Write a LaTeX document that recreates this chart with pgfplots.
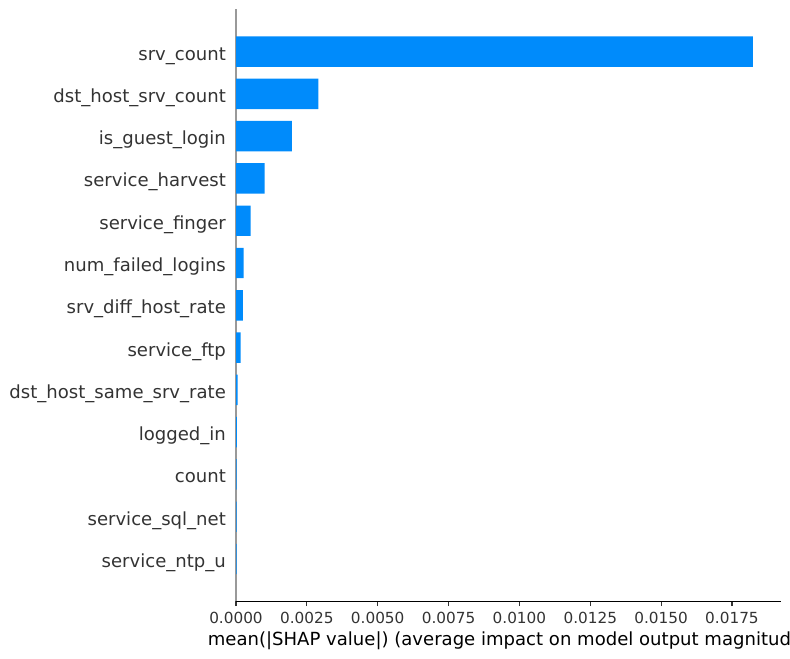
\documentclass[border=0pt]{standalone}
\usepackage{pgfplots}
\pgfplotsset{compat=1.18}
\usepackage{fontspec}
\setmainfont{DejaVu Sans}
\definecolor{shapblue}{HTML}{008BFB}
\definecolor{axgray}{HTML}{333333}
\definecolor{spinegray}{HTML}{999999}
\newlength\px
\setlength\px{0.7227pt}

% mean(|SHAP value|), index 0 = bottom bar
\pgfplotstableread{
y  v
0  0.00002
1  0.00002
2  0.00002
3  0.00003
4  0.00006
5  0.000165
6  0.00024
7  0.00027
8  0.00052
9  0.00101
10 0.00197
11 0.00291
12 0.01824
}\shapdata

\begin{document}
\begin{tikzpicture}
\useasboundingbox (0,0) rectangle (790\px,659\px);
\clip (0,0) rectangle (790\px,659\px);
\begin{axis}[
  at={(236\px,57.7\px)}, anchor=south west,
  scale only axis, width=545\px, height=592\px,
  xmin=0, xmax=0.01923, ymin=-1, ymax=13,
  axis x line*=bottom, axis y line*=left,
  axis line style={-},
  x axis line style={black, line width=0.8bp},
  y axis line style={spinegray, line width=0.8bp},
  xtick={0,0.0025,0.005,0.0075,0.01,0.0125,0.015,0.0175},
  xticklabels={0.0000,0.0025,0.0050,0.0075,0.0100,0.0125,0.0150,0.0175},
  scaled x ticks=false,
  ytick={0,...,12},
  yticklabels={service\_ntp\_u, service\_sql\_net, count, logged\_in,
    dst\_host\_same\_srv\_rate, service\_ftp, srv\_diff\_host\_rate,
    num\_failed\_logins, service\_finger, service\_harvest,
    is\_guest\_login, dst\_host\_srv\_count, srv\_count},
  tick align=outside,
  major tick length=3.5bp,
  xtick style={axgray, line width=0.8bp},
  ytick style={draw=none},
  xticklabel style={font=\fontsize{11bp}{13bp}\selectfont, color=axgray,
    anchor=north, inner sep=0pt},
  xticklabel shift=6\px,
  yticklabel style={font=\fontsize{13bp}{15bp}\selectfont, color=axgray,
    anchor=base east, inner sep=0pt, xshift=-5\px, yshift=-8.5\px},
  xlabel={mean(|SHAP value|) (average impact on model output magnitude)},
  xlabel style={font=\fontsize{13bp}{15bp}\selectfont, black,
    at={(axis description cs:0.5,0)}, anchor=base, inner sep=0pt, yshift=-44.5\px},
  xbar, bar width=0.72, bar shift=0pt,
]
\addplot[fill=shapblue, draw=none] table[x=v, y=y] {\shapdata};
\end{axis}
\end{tikzpicture}
\end{document}
